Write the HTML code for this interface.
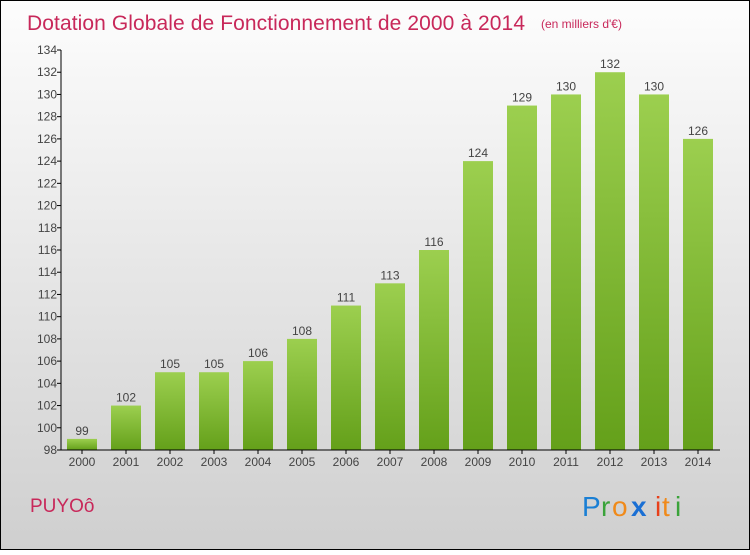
<!DOCTYPE html>
<html><head><meta charset="utf-8"><style>
html,body{margin:0;padding:0}
body{width:750px;height:550px;overflow:hidden;font-family:"Liberation Sans",sans-serif}
</style></head><body>
<svg width="750" height="550" xmlns="http://www.w3.org/2000/svg">
<defs>
<linearGradient id="bg" x1="0" y1="0" x2="0" y2="1"><stop offset="0" stop-color="#fdfdfd"/><stop offset="1" stop-color="#cfcfcf"/></linearGradient>
<linearGradient id="bar" x1="0" y1="0" x2="0" y2="1"><stop offset="0" stop-color="#9ccf4f"/><stop offset="1" stop-color="#64a01a"/></linearGradient>
</defs>
<rect x="0.5" y="0.5" width="749" height="549" fill="url(#bg)" stroke="#000"/>
<text x="27" y="30" font-size="21" fill="#c8285a" textLength="498">Dotation Globale de Fonctionnement de 2000 à 2014</text>
<text x="541" y="28" font-size="12" fill="#c8285a">(en milliers d'€)</text>
<g id="yaxis"></g>
<g id="bars"></g>
<g id="xaxis"></g>
<text x="30" y="512" font-size="19" fill="#c8285a">PUYOô</text>
<g font-size="28">
<text x="582" y="516" fill="#1a7fd4">P</text><text x="601" y="516" fill="#3aa33a">r</text><text x="612" y="516" fill="#f08a1a">o</text><text x="631" y="516" fill="#1a6fd4" font-weight="bold">x</text><text x="655" y="516" fill="#e8401a">i</text><text x="662" y="516" fill="#f08a1a">t</text><text x="675" y="516" fill="#3aa33a">i</text>
</g>
</svg>
<script>
const years=["2000","2001","2002","2003","2004","2005","2006","2007","2008","2009","2010","2011","2012","2013","2014"];
const values=[99,102,105,105,106,108,111,113,116,124,129,130,132,130,126];
const yTicks=[98,100,102,104,106,108,110,112,114,116,118,120,122,124,126,128,130,132,134];
const NS="http://www.w3.org/2000/svg";
const y=v=>450-(v-98)*(400/36);
const x=i=>82+i*44;
function mk(t,a,p){const e=document.createElementNS(NS,t);for(const k in a)e.setAttribute(k,a[k]);p.appendChild(e);return e;}
const ya=document.getElementById('yaxis'),xa=document.getElementById('xaxis'),bg=document.getElementById('bars');
mk('line',{x1:61,y1:50,x2:61,y2:450,stroke:'#000'},ya);
yTicks.forEach(v=>{
 const l=mk('line',{x1:57,y1:y(v),x2:61,y2:y(v),stroke:'#000'},ya);
 
 
 const t=mk('text',{x:57,y:y(v)+4,'text-anchor':'end','font-size':12,fill:'#444'},ya);
 t.textContent=v;
 
 
});
mk('line',{x1:61,y1:450,x2:720,y2:450,stroke:'#000'},xa);
years.forEach((yr,i)=>{
 const r=mk('rect',{x:x(i)-15,y:y(values[i]),width:30,height:450-y(values[i]),fill:'url(#bar)'},bg);
 
 
 const vl=mk('text',{x:x(i),y:y(values[i])-4,'text-anchor':'middle','font-size':12,fill:'#444'},bg);
 vl.textContent=values[i];
 
 
 const tk=mk('line',{x1:x(i),y1:450,x2:x(i),y2:454,stroke:'#000'},xa);
 
 
 const t=mk('text',{x:x(i),y:466,'text-anchor':'middle','font-size':12,fill:'#444'},xa);
 t.textContent=yr;
 
 
});
</script>
</body></html>
